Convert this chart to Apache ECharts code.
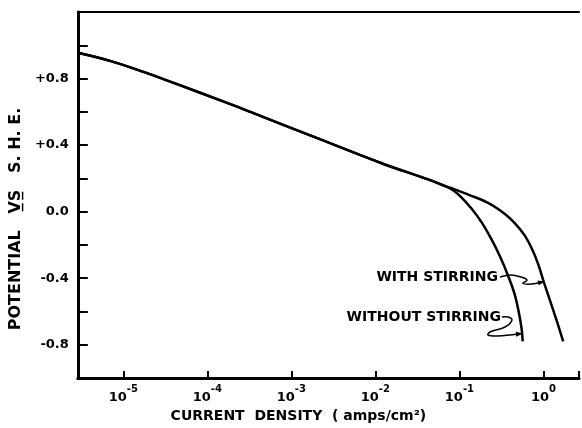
<!DOCTYPE html>
<html>
<head>
<meta charset="utf-8">
<script src="https://cdn.jsdelivr.net/npm/echarts@6/dist/echarts.min.js"></script>
<style>
  html, body { margin: 0; padding: 0; background: #fff; }
  #chart { width: 582px; height: 428px; }
</style>
</head>
<body>
<div id="chart"></div>
<script>
// common Tafel line (amps/cm2, volts)
const mainCurrent = [2.88e-6, 7.1e-6, 1.74e-5, 4.37e-5, 1.66e-4, 3.31e-4, 2.0e-3, 1.23e-2, 4.32e-2, 7.03e-2]
const mainPotential = [0.955, 0.905, 0.84, 0.766, 0.657, 0.598, 0.443, 0.288, 0.192, 0.150]
// branch without stirring
const withoutCurrent = [0.0849, 0.1028, 0.1384, 0.1816, 0.2377, 0.3034, 0.3767, 0.456, 0.515, 0.5512, 0.5662]
const withoutPotential = [0.127, 0.092, 0.020, -0.060, -0.161, -0.268, -0.381, -0.499, -0.618, -0.707, -0.78]
// branch with stirring
const withCurrent = [0.0849, 0.1276, 0.2193, 0.3451, 0.456, 0.5972, 0.743, 0.873, 1.0, 1.177, 1.422, 1.718]
const withPotential = [0.137, 0.102, 0.053, -0.012, -0.069, -0.143, -0.232, -0.321, -0.416, -0.523, -0.648, -0.78]
// y tick labels shown
const yTickLabels = { '0.8': '+0.8', '0.4': '+0.4', '0': '0.0', '-0.4': '-0.4', '-0.8': '-0.8' }

const FONT = 'DejaVu Sans'
const zip = (xs, ys) => xs.map((x, i) => [x, ys[i]])

const chart = echarts.init(document.getElementById('chart'))

const axisBase = {
  type: 'log',
  logBase: 10,
  min: 2.88e-6,
  max: 2.65
}

const option = {
  backgroundColor: '#fff',
  animation: false,
  grid: { left: 75, right: 0, top: 12, bottom: 46 },
  xAxis: [{
    ...axisBase,
    position: 'bottom',
    name: 'CURRENT  DENSITY  ( amps/cm²)',
    nameLocation: 'middle',
    nameGap: 31,
    nameTextStyle: { fontFamily: FONT, fontWeight: 'bold', fontSize: 14, color: '#000', padding: [0, 60, 0, 0] },
    axisLine: { onZero: false, lineStyle: { color: '#000', width: 3 } },
    axisTick: { inside: true, length: 7, lineStyle: { color: '#000', width: 2 } },
    minorTick: { show: false },
    splitLine: { show: false },
    axisLabel: {
      margin: 6,
      formatter: v => {
        const e = Math.log10(v)
        const r = Math.round(e)
        if (Math.abs(e - r) > 1e-6) return ''
        return '{b|10}{s|' + (r === 0 ? '0' : r) + '}'
      },
      rich: {
        b: { fontFamily: FONT, fontWeight: 'bold', fontSize: 13, color: '#000', lineHeight: 20, verticalAlign: 'bottom' },
        s: { fontFamily: FONT, fontWeight: 'bold', fontSize: 10, color: '#000', lineHeight: 20, verticalAlign: 'top' }
      }
    }
  }, {
    ...axisBase,
    position: 'top',
    axisLine: { show: true, onZero: false, lineStyle: { color: '#000', width: 2 } },
    axisTick: { show: false },
    axisLabel: { show: false },
    splitLine: { show: false }
  }],
  yAxis: {
    type: 'value',
    min: -1.0,
    max: 1.2,
    interval: 0.2,
    name: 'POTENTIAL   V\u0332S\u0332   S. H. E.',
    nameLocation: 'middle',
    nameGap: 48,
    nameTextStyle: { fontFamily: FONT, fontWeight: 'bold', fontSize: 16, color: '#000', padding: [0, 48, 0, 0] },
    axisLine: { onZero: false, lineStyle: { color: '#000', width: 3 } },
    axisTick: { inside: true, length: 10, lineStyle: { color: '#000', width: 2 } },
    splitLine: { show: false },
    axisLabel: {
      margin: 9,
      fontFamily: FONT,
      fontWeight: 'bold',
      fontSize: 13,
      color: '#000',
      formatter: v => yTickLabels[String(Math.round(v * 10) / 10)] || ''
    }
  },
  series: [{
    name: 'WITHOUT STIRRING',
    type: 'line',
    data: zip(mainCurrent.concat(withoutCurrent), mainPotential.concat(withoutPotential)),
    smooth: 0.4,
    showSymbol: false,
    lineStyle: { color: '#000', width: 2.5 }
  }, {
    name: 'WITH STIRRING',
    type: 'line',
    data: zip(mainCurrent.concat(withCurrent), mainPotential.concat(withPotential)),
    smooth: 0.4,
    showSymbol: false,
    lineStyle: { color: '#000', width: 2.5 }
  }],
  graphic: [
    { type: 'text', x: 498, y: 277, style: { text: 'WITH STIRRING', align: 'right', verticalAlign: 'middle', fontFamily: FONT, fontWeight: 'bold', fontSize: 14, fill: '#000' } },
    { type: 'text', x: 501, y: 317, style: { text: 'WITHOUT STIRRING', align: 'right', verticalAlign: 'middle', fontFamily: FONT, fontWeight: 'bold', fontSize: 14, fill: '#000' } },
    // leader squiggles to the curves
    { type: 'polyline', shape: { points: [[500, 277], [511, 275], [521, 277], [527, 280], [523, 283.5], [532, 284], [540, 282.5]], smooth: 0.4 }, style: { stroke: '#000', lineWidth: 1.5, fill: null } },
    { type: 'polygon', shape: { points: [[545, 281.5], [538.6, 285.3], [537.6, 280.4]] }, style: { fill: '#000' } },
    { type: 'polyline', shape: { points: [[502, 317], [508, 317], [512, 320], [505, 327], [490, 332], [488, 335], [498, 336], [518, 334]], smooth: 0.4 }, style: { stroke: '#000', lineWidth: 1.5, fill: null } },
    { type: 'polygon', shape: { points: [[523, 333.5], [516.2, 336.7], [515.8, 331.7]] }, style: { fill: '#000' } }
  ]
}

chart.setOption(option)
</script>
</body>
</html>
